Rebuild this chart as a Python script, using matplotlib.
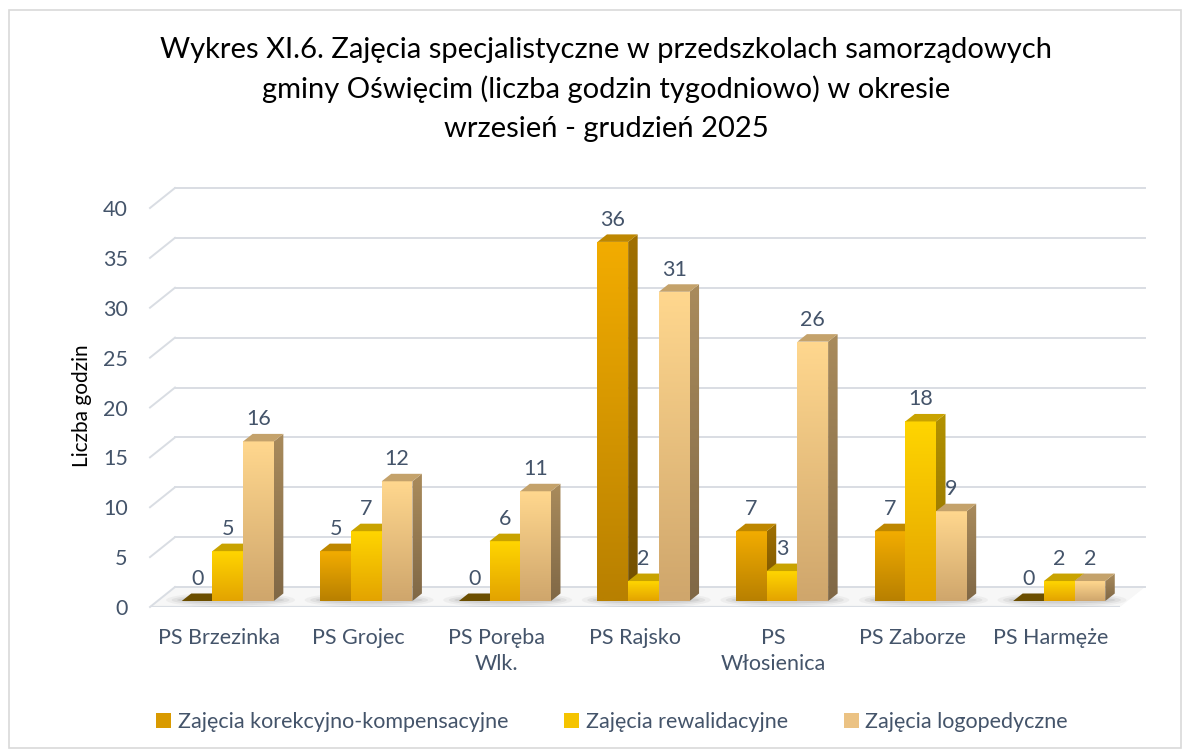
#!/usr/bin/env python3

import numpy as np
import matplotlib

matplotlib.use("Agg")
import matplotlib.pyplot as plt
from matplotlib.patches import Polygon, Rectangle, Ellipse

CATEGORIES = [
    "PS Brzezinka",
    "PS Grojec",
    "PS Poręba\nWlk.",
    "PS Rajsko",
    "PS\nWłosienica",
    "PS Zaborze",
    "PS Harmęże",
]
SERIES_NAMES = [
    "Zajęcia korekcyjno-kompensacyjne",
    "Zajęcia rewalidacyjne",
    "Zajęcia logopedyczne",
]
KOREKCYJNE = [0, 5, 0, 36, 7, 7, 0]
REWALIDACYJNE = [5, 7, 6, 2, 3, 18, 2]
LOGOPEDYCZNE = [16, 12, 11, 31, 26, 9, 2]
Y_TICKS = [0, 5, 10, 15, 20, 25, 30, 35, 40]

TITLE_LINES = [
    "Wykres XI.6. Zajęcia specjalistyczne w przedszkolach samorządowych",
    "gminy Oświęcim (liczba godzin tygodniowo) w okresie",
    "wrzesień - grudzień 2025",
]

# front face top/bottom, side top/bottom, top face, zero-bar colour, legend
STYLES = [
    dict(front=("#F2AC00", "#B88000"), side=("#A07000", "#735000"),
         top="#BE8700", zero="#6B4E00", legend="#D99A00"),
    dict(front=("#FFD500", "#E3A300"), side=("#B39200", "#8C6B00"),
         top="#C9A300", zero="#7A5F00", legend="#F5C400"),
    dict(front=("#FFD78E", "#CFA66C"), side=("#A98B5C", "#806846"),
         top="#C4A26B", zero="#8A6E45", legend="#EBC283"),
]

TEXT_COLOR = "#44546A"
GRID_COLOR = "#D9DDE3"
FONT = ["Lato", "DejaVu Sans"]
LABEL_SIZE = 15.5

W, H = 1189, 756
PX_X = 970 / 7.0      # pixels per category
PX_Y = 399 / 40.0     # pixels per unit of value


def hexrgb(c):
    return np.array(matplotlib.colors.to_rgb(c))


def grad_poly(ax, verts, c_top, c_bot, z):
    verts = np.asarray(verts)
    poly = Polygon(verts, closed=True, facecolor="none", edgecolor="none",
                   transform=ax.transData, zorder=z)
    ax.add_patch(poly)
    t = np.linspace(0, 1, 64).reshape(-1, 1, 1)
    arr = hexrgb(c_top) * (1 - t) + hexrgb(c_bot) * t
    x0, x1 = verts[:, 0].min(), verts[:, 0].max()
    y0, y1 = verts[:, 1].min(), verts[:, 1].max()
    im = ax.imshow(arr, extent=(x0, x1, y0, y1), origin="upper",
                   aspect="auto", interpolation="bilinear", zorder=z)
    im.set_clip_path(poly)


def main():
    plt.rcParams["font.family"] = FONT
    fig = plt.figure(figsize=(W / 100, H / 100), dpi=100)

    xlim = (0, 7.2)
    ylim = (0, 42.5)
    left_px, base_px = 150, 607
    ax = fig.add_axes([
        left_px / W,
        (H - base_px) / H,
        (xlim[1] - xlim[0]) * PX_X / W,
        (ylim[1] - ylim[0]) * PX_Y / H,
    ])
    ax.set_facecolor("none")
    for s in ax.spines.values():
        s.set_visible(False)

    # depth offsets (data units)
    wall_dx, wall_dy = 25 / PX_X, 20 / PX_Y
    bar_dx, bar_dy = 9.5 / PX_X, 7.5 / PX_Y
    base_dx, base_dy = 8.5 / PX_X, 6 / PX_Y
    bar_w = 30.7 / PX_X
    n_cat = len(CATEGORIES)

    # floor
    floor = Polygon([(0, 0), (n_cat, 0), (n_cat + wall_dx, wall_dy), (wall_dx, wall_dy)],
                    closed=True, facecolor="#F7F7F7", edgecolor="none", zorder=0.5)
    ax.add_patch(floor)
    ax.plot([0, n_cat], [0, 0], color=GRID_COLOR, lw=1.6, zorder=0.6,
            solid_capstyle="butt")

    # back wall gridlines + side wall diagonals
    for v in Y_TICKS:
        ax.plot([wall_dx, n_cat + wall_dx], [v + wall_dy, v + wall_dy],
                color=GRID_COLOR, lw=1.4, zorder=1, clip_on=False)
        ax.plot([0, wall_dx], [v, v + wall_dy], color=GRID_COLOR, lw=1.4,
                zorder=1, clip_on=False)

    series = [KOREKCYJNE, REWALIDACYJNE, LOGOPEDYCZNE]
    n_ser = len(series)
    z = 3
    for i in range(n_cat):
        g_left = i + 0.5 - n_ser * bar_w / 2 + base_dx
        # soft shadow under the group
        for k, a in enumerate([0.07, 0.10, 0.13]):
            ax.add_patch(Ellipse((g_left + n_ser * bar_w / 2 + 0.02, base_dy + 0.1),
                                 n_ser * bar_w * (1.4 - 0.12 * k), 1.5 - 0.4 * k,
                                 facecolor="#6F6F6F", alpha=a, edgecolor="none",
                                 zorder=2))
        for k, vals in enumerate(series):
            st = STYLES[k]
            v = vals[i]
            x0 = g_left + k * bar_w
            x1 = x0 + bar_w
            y0 = base_dy
            y1 = base_dy + v
            top = [(x0, y1), (x1, y1), (x1 + bar_dx, y1 + bar_dy), (x0 + bar_dx, y1 + bar_dy)]
            if v == 0:
                ax.add_patch(Polygon(top, closed=True, facecolor=st["zero"],
                                     edgecolor="none", zorder=z))
            else:
                grad_poly(ax, [(x0, y0), (x1, y0), (x1, y1), (x0, y1)],
                          st["front"][0], st["front"][1], z)
                grad_poly(ax, [(x1, y0), (x1 + bar_dx, y0 + bar_dy),
                               (x1 + bar_dx, y1 + bar_dy), (x1, y1)],
                          st["side"][0], st["side"][1], z)
                ax.add_patch(Polygon(top, closed=True, facecolor=st["top"],
                                     edgecolor="none", zorder=z))
            ax.text((x0 + x1) / 2, y1 + 12 / PX_Y, str(v), ha="center", va="bottom",
                    fontsize=LABEL_SIZE, color=TEXT_COLOR, zorder=20)
            z += 1

    ax.set_xlim(*xlim)
    ax.set_ylim(*ylim)
    ax.set_yticks(Y_TICKS)
    ax.set_yticklabels([str(t) for t in Y_TICKS], fontsize=LABEL_SIZE, color=TEXT_COLOR)
    ax.set_xticks([i + 0.5 for i in range(n_cat)])
    ax.set_xticklabels(CATEGORIES, fontsize=LABEL_SIZE, color=TEXT_COLOR, linespacing=1.4)
    ax.tick_params(axis="y", length=0, pad=16)
    ax.tick_params(axis="x", length=0, pad=15)

    fig.text(82 / W, 1 - 406 / H, "Liczba godzin", rotation=90, ha="center",
             va="center", fontsize=15, color="black")

    for line, yc in zip(TITLE_LINES, [50, 89, 129]):
        fig.text(606 / W, 1 - yc / H, line, ha="center", va="center",
                 fontsize=21, color="black")

    handles = [Rectangle((0, 0), 1, 1, facecolor=s["legend"], edgecolor="none")
               for s in STYLES]
    fig.legend(handles, SERIES_NAMES, loc="center", bbox_to_anchor=(612 / W, 1 - 722 / H),
               ncol=3, frameon=False, handlelength=0.7, handleheight=0.7,
               handletextpad=0.3, columnspacing=2.6, labelcolor=TEXT_COLOR,
               prop={"size": LABEL_SIZE})

    fig.add_artist(Rectangle((8.5 / W, 8.5 / H), 1172 / W, 738 / H,
                             transform=fig.transFigure, facecolor="none",
                             edgecolor="#D9D9D9", lw=1.2))

    fig.savefig("out.png", dpi=100)
    plt.close(fig)


if __name__ == "__main__":
    main()
